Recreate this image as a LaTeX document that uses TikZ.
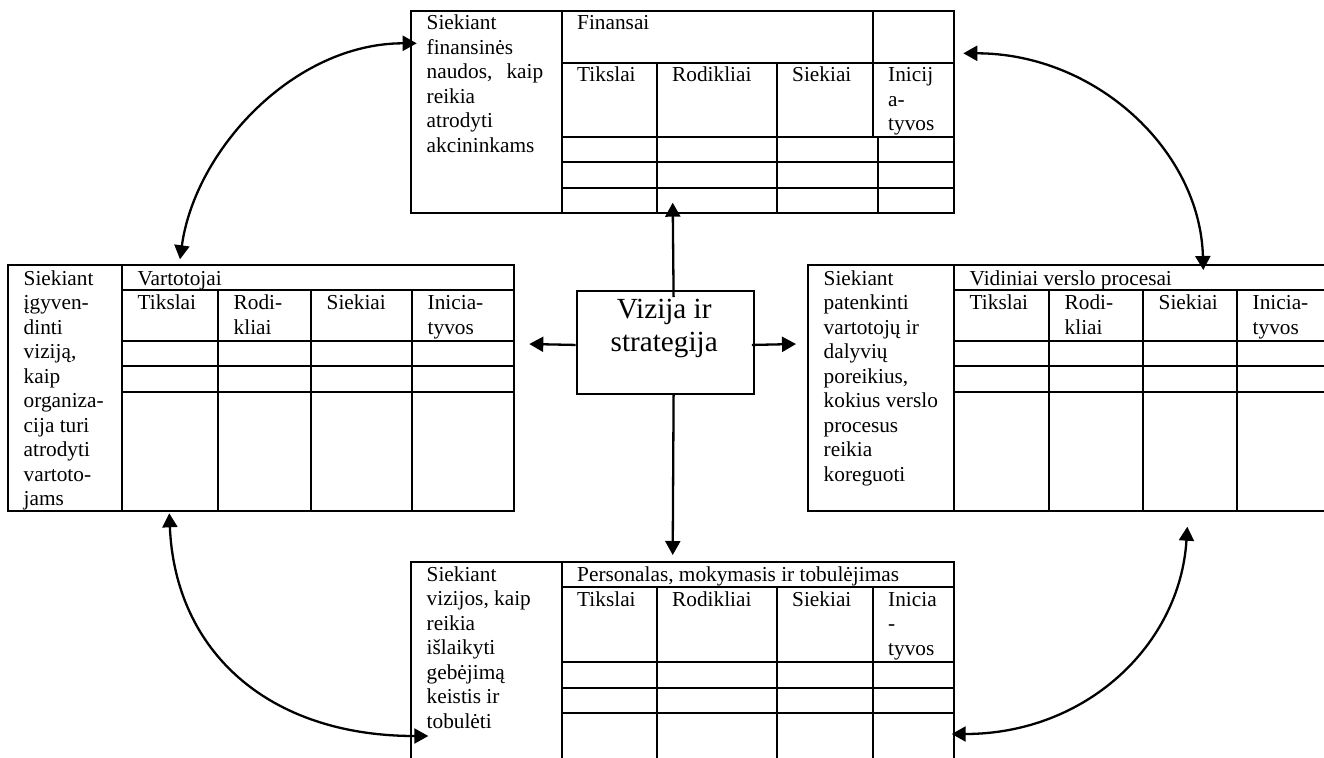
\documentclass[tikz,border=0pt]{standalone}
\usepackage{fontspec}
\setmainfont{Liberation Serif}
\usetikzlibrary{arrows.meta}
\begin{document}
\begin{tikzpicture}[x=1pt,y=-1pt,
  grid/.style={line width=1.9pt},
  tbl/.style={draw, line width=1.9pt, inner sep=0pt, outer sep=0pt, anchor=north west},
  txt/.style={anchor=base west, inner sep=0pt, font=\fontsize{21.3}{24.5}\selectfont},
  arr/.style={line width=2.3pt, -{Triangle[length=14pt,width=15pt]}},
  darr/.style={line width=2.3pt, {Triangle[length=14pt,width=15pt]}-{Triangle[length=14pt,width=15pt]}},
]
\useasboundingbox (0,0) rectangle (1324,757);
\clip (0,0) rectangle (1324,757);

% ---------- Finansai (top) ----------
\node[tbl, minimum width=543pt, minimum height=202pt] (fin) at (411,11) {};
\draw[grid] (562,11) -- (562,213);
\draw[grid] (562,63) -- (954,63);
\foreach \y in {137,162,188} \draw[grid] (562,\y) -- (954,\y);
\draw[grid] (873,11) -- (873,137);
\draw[grid] (878,137) -- (878,213);
\foreach \x in {657,777} \draw[grid] (\x,63) -- (\x,213);
\node[txt] (f1) at (426.5,30) {\parbox[t]{140pt}{Siekiant\\finansinės\\\makebox[116.5pt][s]{naudos, kaip}\\reikia\\atrodyti\\akcininkams}};
\node[txt] (f2) at (577,30) {Finansai};
\node[txt] (f3) at (577,82) {Tikslai};
\node[txt] (f4) at (672,82) {Rodikliai};
\node[txt] (f5) at (792,82) {Siekiai};
\node[txt] (f6) at (888,82) {\parbox[t]{70pt}{Inicij\\a-\\tyvos}};

% ---------- Vartotojai (left) ----------
\node[tbl, minimum width=506pt, minimum height=246pt] (cust) at (8,265) {};
\draw[grid] (122,265) -- (122,511);
\draw[grid] (122,290) -- (514,290);
\foreach \y in {341,366,392} \draw[grid] (122,\y) -- (514,\y);
\foreach \x in {218,311,412} \draw[grid] (\x,290) -- (\x,511);
\node[txt] (c1) at (23.5,285) {\parbox[t]{110pt}{Siekiant\\įgyven-\\dinti\\viziją,\\kaip\\organiza-\\cija turi\\atrodyti\\vartoto-\\jams}};
\node[txt] (c2) at (137.5,285) {Vartotojai};
\node[txt] (c3) at (137.5,309.5) {Tikslai};
\node[txt] (c4) at (233.5,309.5) {\parbox[t]{80pt}{Rodi-\\kliai}};
\node[txt] (c5) at (326.5,309.5) {Siekiai};
\node[txt] (c6) at (427.5,309.5) {\parbox[t]{80pt}{Inicia-\\tyvos}};

% ---------- Vidiniai verslo procesai (right) ----------
\node[tbl, minimum width=518pt, minimum height=246pt] (proc) at (808,265) {};
\draw[grid] (954,265) -- (954,511);
\draw[grid] (954,290) -- (1330,290);
\foreach \y in {341,366,392} \draw[grid] (954,\y) -- (1330,\y);
\foreach \x in {1049,1143,1237} \draw[grid] (\x,290) -- (\x,511);
\node[txt] (p1) at (823.5,285) {\parbox[t]{130pt}{Siekiant\\patenkinti\\vartotojų ir\\dalyvių\\poreikius,\\kokius verslo\\procesus\\reikia\\koreguoti}};
\node[txt] (p2) at (969.5,285) {Vidiniai verslo procesai};
\node[txt] (p3) at (969.5,309.5) {Tikslai};
\node[txt] (p4) at (1064.5,309.5) {\parbox[t]{80pt}{Rodi-\\kliai}};
\node[txt] (p5) at (1158.5,309.5) {Siekiai};
\node[txt] (p6) at (1252.5,309.5) {\parbox[t]{80pt}{Inicia-\\tyvos}};

% ---------- Personalas (bottom) ----------
\node[tbl, minimum width=543pt, minimum height=230pt] (learn) at (411,562) {};
\draw[grid] (562,562) -- (562,800);
\draw[grid] (562,587) -- (954,587);
\foreach \y in {662,688,713} \draw[grid] (562,\y) -- (954,\y);
\foreach \x in {657,777,873} \draw[grid] (\x,587) -- (\x,800);
\node[txt] (l1) at (426.5,581) {\parbox[t]{140pt}{Siekiant\\vizijos, kaip\\reikia\\išlaikyti\\gebėjimą\\keistis ir\\tobulėti}};
\node[txt] (l2) at (577,581) {Personalas, mokymasis ir tobulėjimas};
\node[txt] (l3) at (577,606) {Tikslai};
\node[txt] (l4) at (672,606) {Rodikliai};
\node[txt] (l5) at (792,606) {Siekiai};
\node[txt] (l6) at (888,606) {\parbox[t]{70pt}{Inicia\\-\\tyvos}};

% ---------- Vizija ir strategija (centre) ----------
\node[draw, line width=1.8pt, minimum width=177pt, minimum height=102.7pt, inner sep=0pt, anchor=north west] (vis) at (575.7,290) {};
\node[anchor=base, inner sep=0pt, font=\fontsize{29.2}{33.4}\selectfont] (vist) at (664.2,318) {\parbox[t]{170pt}{\centering Vizija ir\\strategija}};

\coordinate (finIn) at (672.7,202.7);
\coordinate (custIn) at (529.3,344);
\coordinate (procIn) at (796,344);
\coordinate (learnIn) at (672.7,555);
\draw[arr] ([xshift=8.5pt,yshift=-7pt]vis.north) -- (finIn);
\draw[arr] ([yshift=-2.7pt]vis.west) -- (custIn);
\draw[arr] ([xshift=-2.7pt,yshift=-2.7pt]vis.east) -- (procIn);
\draw[arr] ([xshift=8.5pt]vis.south) -- (learnIn);

% ---------- curved double arrows ----------
\coordinate (finL) at (416.7,43.3);
\coordinate (custT) at (180,259.3);
\draw[darr] (custT) .. controls (195,150) and (293.6,43.3) .. (finL);

\coordinate (finR) at (963.3,53.3);
\coordinate (procT) at (1203.3,270);
\draw[darr] (finR) .. controls (1095.3,53.3) and (1200,150) .. (procT);

\coordinate (custB) at (169.3,513.3);
\coordinate (learnL) at (428.3,736);
\draw[darr] (custB) .. controls (175,651) and (267.7,736) .. (learnL);

\coordinate (procB) at (1187.3,526.7);
\coordinate (learnR) at (951.7,734);
\draw[darr] (procB) .. controls (1180,645) and (1086,734) .. (learnR);
\end{tikzpicture}
\end{document}
